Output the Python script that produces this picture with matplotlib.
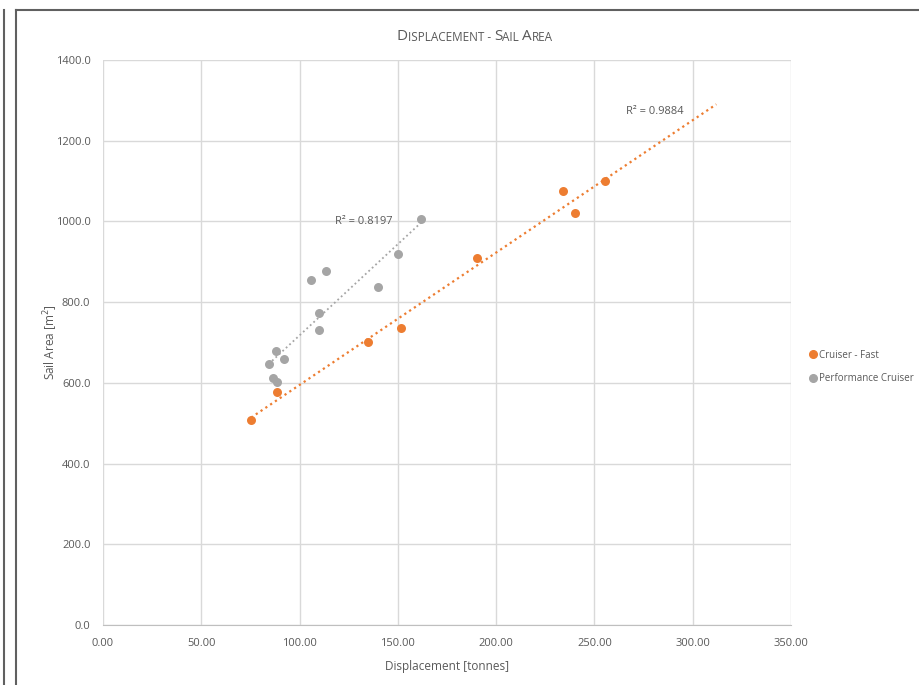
import numpy as np
import matplotlib
matplotlib.use("Agg")
import matplotlib.pyplot as plt
from matplotlib.lines import Line2D
from matplotlib.ticker import FormatStrFormatter

plt.rcParams['font.family'] = ['Open Sans', 'DejaVu Sans']

# data
fast_disp = [75.3, 88.4, 134.8, 151.6, 190.2, 234.0, 240.0, 255.3]
fast_area = [508, 577, 701, 736, 909, 1075, 1021, 1100]

perf_disp = [84.3, 86.6, 88.6, 87.8, 92.2, 105.8, 109.7, 109.7, 113.4, 139.9, 149.9, 161.9]
perf_area = [647, 613, 603, 678, 660, 854, 774, 731, 876, 837, 920, 1006]

series_names = ["Cruiser - Fast", "Performance Cruiser"]
r2_labels = ["R\u00b2 = 0.9884", "R\u00b2 = 0.8197"]

orange = "#ED7D31"
gray = "#A5A5A5"
text_col = "#595959"
grid_col = "#D9D9D9"

fig = plt.figure(figsize=(9.19, 6.85), dpi=100)
ax = fig.add_axes([103/919, 60/685, 688/919, 565/685])

ax.scatter(fast_disp, fast_area, s=42, color=orange, zorder=3, label=series_names[0], linewidths=0)
ax.scatter(perf_disp, perf_area, s=42, color=gray, zorder=3, label=series_names[1], linewidths=0)

# linear trend lines (orange one extended forward like Excel's forecast)
k1, b1 = np.polyfit(fast_disp, fast_area, 1)
xs1 = np.array([min(fast_disp), 312])
ax.plot(xs1, k1*xs1 + b1, ls=(0, (1, 1.6)), color=orange, lw=1.6, zorder=2)

k2, b2 = np.polyfit(perf_disp, perf_area, 1)
xs2 = np.array([min(perf_disp), max(perf_disp)])
ax.plot(xs2, k2*xs2 + b2, ls=(0, (1, 1.6)), color=gray, lw=1.3, zorder=2)

ax.text(280.8, 1273, r2_labels[0], ha='center', va='center', fontsize=8, color=text_col)
ax.text(132.8, 1000, r2_labels[1], ha='center', va='center', fontsize=8, color=text_col)

ax.set_xlim(0, 350)
ax.set_ylim(0, 1400)
ax.set_xticks(np.arange(0, 351, 50))
ax.set_yticks(np.arange(0, 1401, 200))
ax.xaxis.set_major_formatter(FormatStrFormatter('%.2f'))
ax.yaxis.set_major_formatter(FormatStrFormatter('%.1f'))
ax.tick_params(length=0, labelsize=8, colors=text_col, pad=9)
ax.grid(True, color=grid_col, lw=1)
ax.set_axisbelow(True)
for s in ['top', 'right', 'left']:
    ax.spines[s].set_visible(False)
ax.spines['bottom'].set_color('#BFBFBF')

ax.set_xlabel("Displacement [tonnes]", fontsize=8.5, color=text_col, labelpad=8)
ax.set_ylabel("Sail Area [m$^2$]", fontsize=8.5, color=text_col, labelpad=-3)

# small caps title built from pieces
big, small = 11, 8.5
t = fig.text(397/919, 1 - 40/685, "D", fontsize=big, color=text_col, va='baseline')
prev = t
for piece, fs in [("ISPLACEMENT - ", small), ("S", big), ("AIL ", small), ("A", big), ("REA", small)]:
    prev = ax.annotate(piece, xy=(1, 0), xycoords=prev, va='bottom', ha='left',
                       fontsize=fs, color=text_col, annotation_clip=False)

handles = [Line2D([], [], marker='o', ls='', color=orange, markersize=5.5),
           Line2D([], [], marker='o', ls='', color=gray, markersize=5.5)]
fig.legend(handles, series_names, loc='center left', bbox_to_anchor=(808/919, 1 - 367/685),
           frameon=False, fontsize=7, labelcolor=text_col, handletextpad=0.1,
           handlelength=1.0, labelspacing=1.3, borderpad=0, borderaxespad=0)

# frame lines around the chart object
fig.add_artist(Line2D([4/919, 4/919], [0, 1 - 10/685], color='#606060', lw=1.5))
fig.add_artist(Line2D([16/919, 16/919], [0, 1 - 10/685], color='#606060', lw=1.5))
fig.add_artist(Line2D([16/919, 1], [1 - 10/685, 1 - 10/685], color='#606060', lw=1.5))

fig.savefig("out.png", dpi=100)
